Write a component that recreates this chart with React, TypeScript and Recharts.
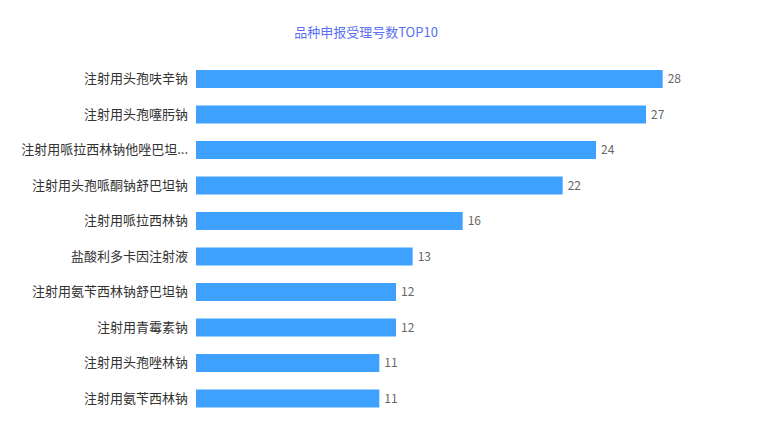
import { BarChart, Bar, XAxis, YAxis, LabelList } from 'recharts';

const BAR_COLOR = '#3fa1ff';
const FONT = "'Noto Sans CJK SC', 'Noto Sans', sans-serif";

const drugNames = [
  '注射用头孢呋辛钠',
  '注射用头孢噻肟钠',
  '注射用哌拉西林钠他唑巴坦钠',
  '注射用头孢哌酮钠舒巴坦钠',
  '注射用哌拉西林钠',
  '盐酸利多卡因注射液',
  '注射用氨苄西林钠舒巴坦钠',
  '注射用青霉素钠',
  '注射用头孢唑林钠',
  '注射用氨苄西林钠',
];

const acceptCounts = [28, 27, 24, 22, 16, 13, 12, 12, 11, 11];

const data = drugNames.map((name, i) => ({ name, count: acceptCounts[i] }));

const shortName = (name: string) => (name.length > 12 ? name.slice(0, 12) + '...' : name);

export default function App() {
  return (
    <div style={{ position: 'absolute', left: 0, top: 0, width: 759, height: 436, background: '#fff', fontFamily: FONT }}>
      <div style={{ position: 'absolute', top: 22, left: 0, width: 732, textAlign: 'center', fontSize: 13, color: '#5a70f2' }}>
        品种申报受理号数TOP10
      </div>
      <BarChart
        width={759}
        height={436}
        data={data}
        layout="vertical"
        margin={{ top: 61, right: 63, left: 0, bottom: 20 }}
      >
        <XAxis type="number" domain={[0, 30]} hide />
        <YAxis
          type="category"
          dataKey="name"
          width={196}
          axisLine={false}
          tickLine={false}
          interval={0}
          tickFormatter={shortName}
          tick={{ fill: '#333', fontSize: 13, fontFamily: FONT }}
        />
        <Bar dataKey="count" fill={BAR_COLOR} barSize={18} isAnimationActive={false}>
          <LabelList dataKey="count" position="right" offset={5} fill="#666" fontSize={12} fontFamily={FONT} />
        </Bar>
      </BarChart>
    </div>
  );
}
